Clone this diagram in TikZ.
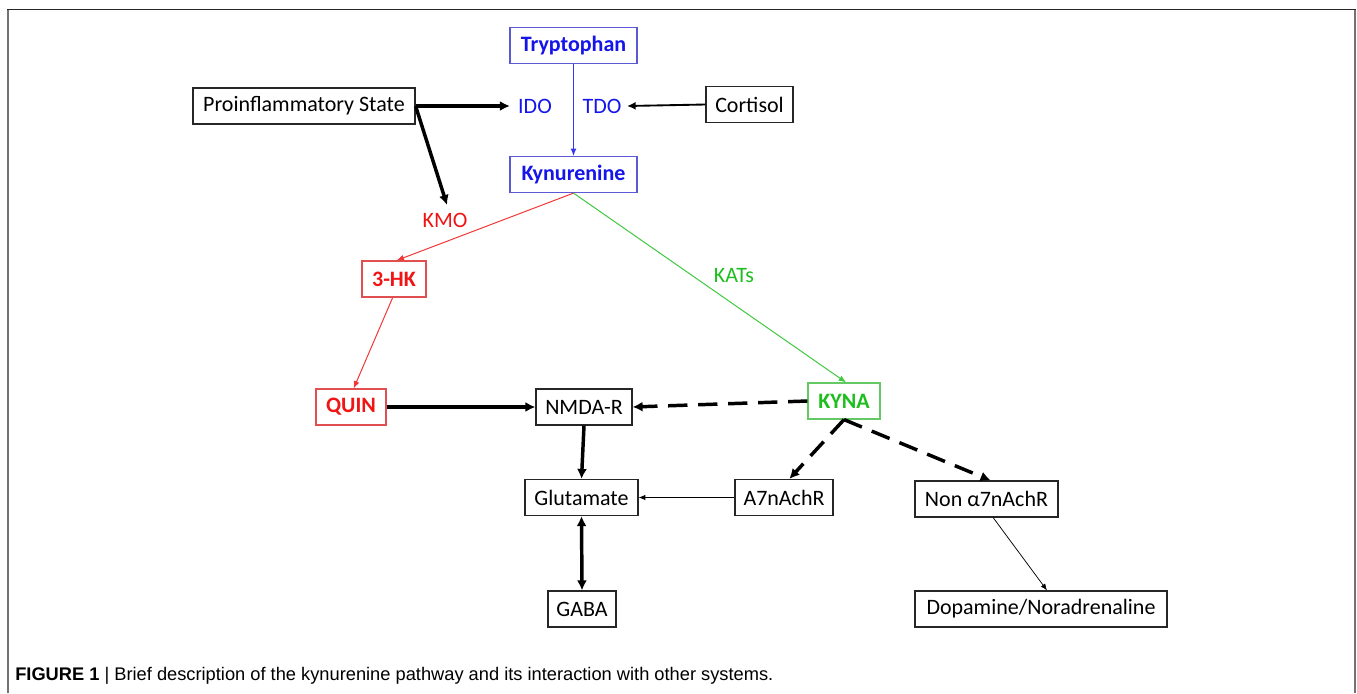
\documentclass[tikz,border=0pt]{standalone}
\usepackage{fontspec}
\setmainfont{Carlito}
\newfontfamily\capfont{Liberation Sans}
\usetikzlibrary{arrows.meta}
\definecolor{kblue}{RGB}{20,20,235}
\definecolor{kbluebox}{RGB}{90,90,215}
\definecolor{kred}{RGB}{240,20,20}
\definecolor{kredbox}{RGB}{225,80,80}
\definecolor{kgreen}{RGB}{30,190,30}
\definecolor{kgreenbox}{RGB}{100,200,100}
\tikzset{
  box/.style={draw=black!85, line width=0.9pt, fill=white, inner sep=0pt,
    minimum height=27pt, font=\fontsize{16.5}{18}\selectfont},
  bw/.style={minimum width=#1*0.75pt},
  bluebox/.style={box, draw=kbluebox, text=kblue, font=\fontsize{16.5}{18}\selectfont\bfseries},
  redbox/.style={box, draw=kredbox, text=kred, font=\fontsize{16.5}{18}\selectfont\bfseries},
  greenbox/.style={box, draw=kgreenbox, text=kgreen, font=\fontsize{16.5}{18}\selectfont\bfseries},
  lbl/.style={inner sep=0pt, font=\fontsize{16.5}{18}\selectfont},
  thinarr/.style={line width=0.75pt, -{Latex[length=5.5pt,width=4.5pt]}},
  hairarr/.style={line width=0.55pt, -{Latex[length=5pt,width=4pt]}},
  thickarr/.style={line width=2.6pt, -{Latex[length=7.5pt,width=7.5pt]}},
  dasharr/.style={thickarr, dash pattern=on 14.5pt off 8pt},
}
\begin{document}
\begin{tikzpicture}[x=0.75pt,y=-0.75pt]
\useasboundingbox (0,0) rectangle (1357,693);
% frame
\draw[black!55, line width=1.6pt] (8,693) -- (8,9.5);
\draw[black!55, line width=1.6pt] (1355,693) -- (1355,9.5);
\draw[black!85, line width=1.2pt] (7,9.5) -- (1356,9.5);

% nodes
\node[bluebox, bw=127] (tryp) at (573.5,45.5) {Tryptophan};
\node[box, bw=222] (pro) at (304,106) {Proinflammatory State};
\node[lbl, text=kblue, inner xsep=6pt] (ido) at (535,106) {IDO};
\node[lbl, text=kblue, inner xsep=4pt] (tdo) at (602,106) {TDO};
\node[box, bw=87] (cort) at (749.5,104.5) {Cortisol};
\node[bluebox, bw=127] (kyn) at (573.5,174.5) {Kynurenine};
\node[lbl, text=kred] (kmo) at (445,220) {KMO};
\node[redbox, bw=64] (hk) at (394,279) {3-HK};
\node[lbl, text=kgreen] (kats) at (734,276) {KATs};
\node[redbox, bw=70] (quin) at (351,407) {QUIN};
\node[box, bw=96] (nmda) at (584,407) {NMDA-R};
\node[greenbox, bw=72] (kyna) at (844,401) {KYNA};
\node[box, bw=113] (glu) at (581.5,497.5) {Glutamate};
\node[box, bw=98] (a7) at (784,497.5) {A7nAchR};
\node[box, bw=143] (non) at (986.5,499) {Non α7nAchR};
\node[box, bw=68] (gaba) at (582,609) {GABA};
\node[box, bw=252] (dop) at (1041,609) {Dopamine/Noradrenaline};
\coordinate (kmoarr) at (447,205);

% connectors
\draw[thinarr, kblue!85] (tryp.south) -- (kyn.north);
\draw[thickarr] (pro.east) -- (ido.west);
\draw[thickarr] (pro.east) -- (kmoarr);
\draw[line width=1.4pt, -{Latex[length=6.5pt,width=6pt]}] (cort.west) -- (tdo.east);
\draw[thinarr, kred!85] (kyn.south) -- ([xshift=2pt]hk.north);
\draw[thinarr, kgreen!85] (kyn.south) -- ([xshift=1.5pt]kyna.north);
\draw[thinarr, kred!85] ([xshift=-1pt]hk.south) -- ([xshift=2pt]quin.north);
\draw[thickarr] (quin.east) -- (nmda.west);
\draw[dasharr] (kyna.west) -- (nmda.east);
\draw[thickarr] (nmda.south) -- (glu.north);
\draw[dasharr] (kyna.south) -- ([xshift=4pt]a7.north);
\draw[dasharr] (kyna.south) -- ([xshift=3pt]non.north);
\draw[hairarr] (a7.west) -- (glu.east);
\draw[line width=2.6pt, {Latex[length=7.5pt,width=7.5pt]}-{Latex[length=7.5pt,width=7.5pt]}] (glu.south) -- (gaba.north);
\draw[hairarr] ([xshift=5pt]non.south) -- ([xshift=4.5pt]dop.north);

% caption
\node[anchor=west, inner sep=0pt, font=\capfont\fontsize{13.7}{16}\selectfont] (cap) at (15,676)
  {\textbf{FIGURE 1} | Brief description of the kynurenine pathway and its interaction with other systems.};
\end{tikzpicture}
\end{document}
